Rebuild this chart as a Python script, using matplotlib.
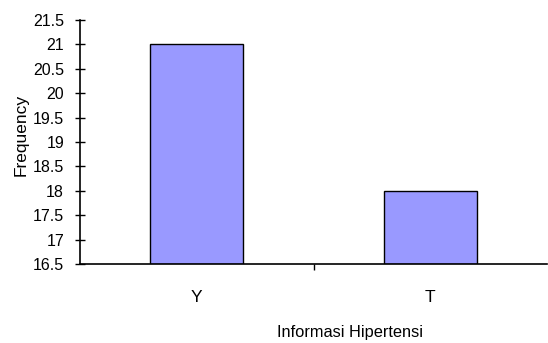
import matplotlib
matplotlib.use('Agg')
import matplotlib.pyplot as plt

categories = ['Y', 'T']
frequency = [21, 18]
yticks = [16.5, 17, 17.5, 18, 18.5, 19, 19.5, 20, 20.5, 21, 21.5]

plt.rcParams['font.family'] = ['Liberation Sans', 'DejaVu Sans']

fig = plt.figure(figsize=(5.48, 3.43), dpi=100)
ax = fig.add_axes([80 / 548, 1 - 264 / 343, 467 / 548, 244 / 343])

xpos = list(range(len(categories)))
ax.bar(xpos, [v - yticks[0] for v in frequency], bottom=yticks[0], width=0.4,
       color='#9999FF', edgecolor='black', linewidth=1.0)
ax.set_xlim(-0.5, len(categories) - 0.5)
ax.set_ylim(yticks[0], yticks[-1])
ax.set_yticks(yticks)
ax.set_yticklabels(['%g' % v for v in yticks], fontsize=11.5)

# categorias como rotulos menores; ticks nas fronteiras
ax.set_xticks([0.5])
ax.set_xticklabels([''])
ax.set_xticks(xpos, minor=True)
ax.set_xticklabels(categories, minor=True, fontsize=12.5)
ax.tick_params(axis='x', which='minor', length=0, pad=19)
ax.tick_params(axis='x', which='major', direction='out', length=4, width=1)
ax.tick_params(axis='y', direction='inout', length=7, width=1, pad=8)

for s in ('top', 'right'):
    ax.spines[s].set_visible(False)
for s in ('left', 'bottom'):
    ax.spines[s].set_linewidth(1.2)

fig.text(21 / 548, 1 - 135 / 343, 'Frequency', rotation=90, ha='center', va='center', fontsize=12.5)
fig.text(350 / 548, 1 - 332 / 343, 'Informasi Hipertensi', ha='center', va='center', fontsize=11.8)

fig.savefig('out.png', dpi=100)
